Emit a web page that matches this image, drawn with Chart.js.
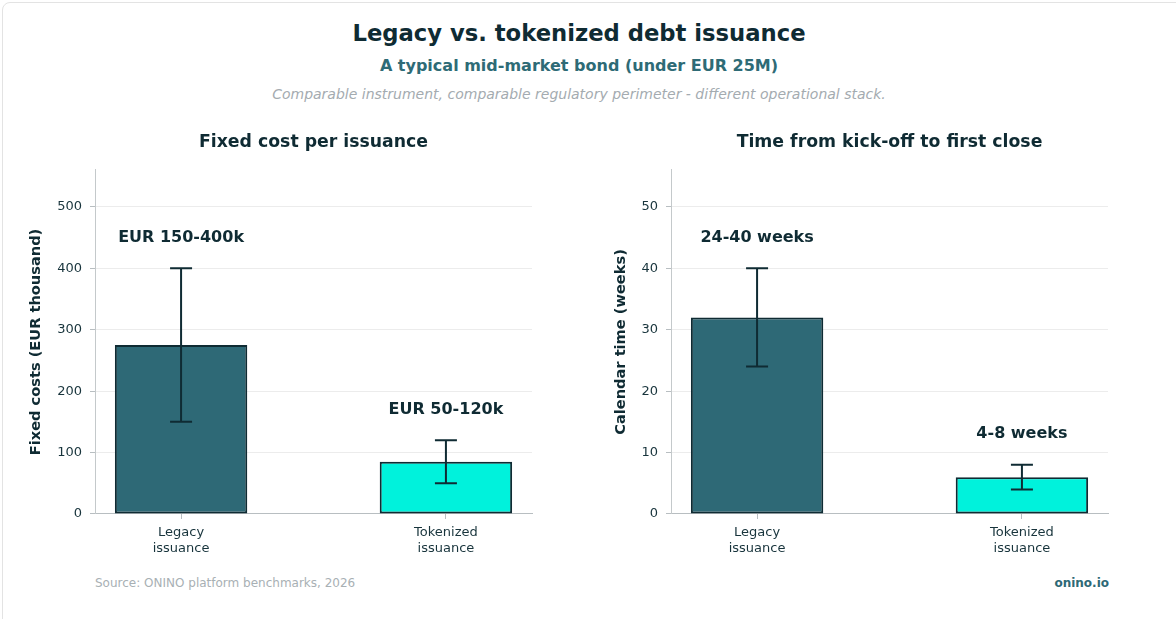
<!DOCTYPE html>
<html>
<head>
<meta charset="utf-8">
<script src="https://cdn.jsdelivr.net/npm/chart.js@4.4.1/dist/chart.umd.min.js"></script>
<style>
  body { margin: 0; background: #ffffff; font-family: "DejaVu Sans", sans-serif; }
  #page { position: relative; width: 1176px; height: 619px; overflow: hidden; }
  #card { position: absolute; left: 2px; top: 2px; width: 1200px; height: 700px;
          border: 1px solid #e3e3e3; border-radius: 8px; }
  .txt { position: absolute; white-space: nowrap; line-height: 1; }
  .center { left: 0; width: 1158px; text-align: center; }
  canvas { position: absolute; }
</style>
</head>
<body>
<div id="page">
  <div id="card"></div>
  <div class="txt center" style="top:22px;font-size:22.7px;font-weight:bold;color:#0f2b33;">Legacy vs. tokenized debt issuance</div>
  <div class="txt center" style="top:58px;font-size:16px;font-weight:bold;color:#2e6b76;">A typical mid-market bond (under EUR 25M)</div>
  <div class="txt center" style="top:87px;font-size:14px;font-style:italic;color:#a4abb0;">Comparable instrument, comparable regulatory perimeter - different operational stack.</div>
  <canvas id="costChart" width="580" height="450" style="left:0;top:121px;"></canvas>
  <canvas id="timeChart" width="580" height="450" style="left:580px;top:121px;"></canvas>
  <div class="txt" style="left:95px;top:577px;font-size:12px;color:#a8b0b4;">Source: ONINO platform benchmarks, 2026</div>
  <div class="txt" style="right:67px;top:577px;font-size:12px;font-weight:bold;color:#2e6976;">onino.io</div>
</div>
<script>
// Catégories (étiquettes sur deux lignes)
const categories = [["Legacy", "issuance"], ["Tokenized", "issuance"]];

// Coût fixe par émission (milliers d'EUR)
const costMid = [275, 85];
const costLow = [150, 50];
const costHigh = [400, 120];
const costLabels = ["EUR 150-400k", "EUR 50-120k"];
const costTicks = [0, 100, 200, 300, 400, 500];

// Délai jusqu'au premier closing (semaines)
const weeksMid = [32, 6];
const weeksLow = [24, 4];
const weeksHigh = [40, 8];
const weeksLabels = ["24-40 weeks", "4-8 weeks"];
const weeksTicks = [0, 10, 20, 30, 40, 50];

const barColors = ["#2e6976", "#00f2dc"];
const darkInk = "#0f2b33";
const tickInk = "#18343c";

// Plugin : barres d'erreur + étiquettes au-dessus
const rangePlugin = {
  id: "rangeBars",
  afterDatasetsDraw(chart, args, opts) {
    const ctx = chart.ctx;
    const xs = chart.scales.x;
    const ys = chart.scales.y;
    ctx.save();
    ctx.strokeStyle = darkInk;
    ctx.lineWidth = 2;
    opts.low.forEach((lo, i) => {
      const x = xs.getPixelForValue(i);
      const yLo = ys.getPixelForValue(lo);
      const yHi = ys.getPixelForValue(opts.high[i]);
      ctx.beginPath();
      ctx.moveTo(x, yLo);
      ctx.lineTo(x, yHi);
      ctx.moveTo(x - 11, yLo);
      ctx.lineTo(x + 11, yLo);
      ctx.moveTo(x - 11, yHi);
      ctx.lineTo(x + 11, yHi);
      ctx.stroke();
      // étiquette au-dessus
      ctx.fillStyle = darkInk;
      ctx.font = "bold 16px 'DejaVu Sans'";
      ctx.textAlign = "center";
      ctx.textBaseline = "middle";
      ctx.fillText(opts.labels[i], x, ys.getPixelForValue(opts.high[i] + opts.offset));
    });
    ctx.restore();
  }
};

function makeChart(canvasId, cfg) {
  const ctx = document.getElementById(canvasId).getContext("2d");
  return new Chart(ctx, {
    type: "bar",
    data: {
      datasets: [{
        data: cfg.mid.map((v, i) => ({ x: i, y: v })),
        backgroundColor: barColors,
        borderColor: darkInk,
        borderWidth: 2,
        borderSkipped: false,
        barPercentage: 0.5,
        categoryPercentage: 1
      }]
    },
    options: {
      responsive: false,
      animation: false,
      devicePixelRatio: 1,
      layout: { padding: { left: 0, right: cfg.padRight, top: 0, bottom: 7 } },
      plugins: {
        legend: { display: false },
        tooltip: { enabled: false },
        title: {
          display: true,
          text: cfg.title,
          fullSize: false,
          color: darkInk,
          font: { family: "DejaVu Sans", size: 17.3, weight: "bold" },
          padding: { top: 11, bottom: 17.2 }
        },
        rangeBars: { low: cfg.low, high: cfg.high, labels: cfg.labels, offset: cfg.labelOffset }
      },
      scales: {
        x: {
          type: "linear",
          min: -0.325,
          max: 1.325,
          offset: false,
          afterBuildTicks: (s) => { s.ticks = categories.map((c, i) => ({ value: i })); },
          afterFit: (s) => { s.height = 50; },
          ticks: {
            color: tickInk,
            font: { family: "DejaVu Sans", size: 13 },
            padding: 6,
            maxRotation: 0,
            callback: (v) => categories[v]
          },
          grid: { offset: false, drawOnChartArea: false, tickLength: 5, tickColor: "#b8bec1" },
          border: { color: "#b8bec1", width: 1 }
        },
        y: {
          min: 0,
          max: cfg.yMax,
          afterBuildTicks: (s) => { s.ticks = cfg.ticks.map((v) => ({ value: v })); },
          afterFit: (s) => { s.width = cfg.yWidth; },
          ticks: {
            color: tickInk,
            font: { family: "DejaVu Sans", size: 13 },
            padding: 8
          },
          grid: { color: "#ececec", lineWidth: 1, tickLength: 5, tickColor: "#b8bec1" },
          border: { color: "#c4c9cb", width: 1 },
          title: {
            display: true,
            text: cfg.yTitle,
            color: darkInk,
            font: { family: "DejaVu Sans", size: 14.6, weight: "bold" },
            padding: { top: cfg.yTitlePad, bottom: 0 }
          }
        }
      }
    },
    plugins: [rangePlugin]
  });
}

makeChart("costChart", {
  title: "Fixed cost per issuance",
  yTitle: "Fixed costs (EUR thousand)",
  mid: costMid, low: costLow, high: costHigh, labels: costLabels,
  ticks: costTicks, yMax: 560, labelOffset: 50,
  yWidth: 95, yTitlePad: 27.2, padRight: 48
});

makeChart("timeChart", {
  title: "Time from kick-off to first close",
  yTitle: "Calendar time (weeks)",
  mid: weeksMid, low: weeksLow, high: weeksHigh, labels: weeksLabels,
  ticks: weeksTicks, yMax: 56, labelOffset: 5,
  yWidth: 91, yTitlePad: 32.2, padRight: 52
});
</script>
</body>
</html>
